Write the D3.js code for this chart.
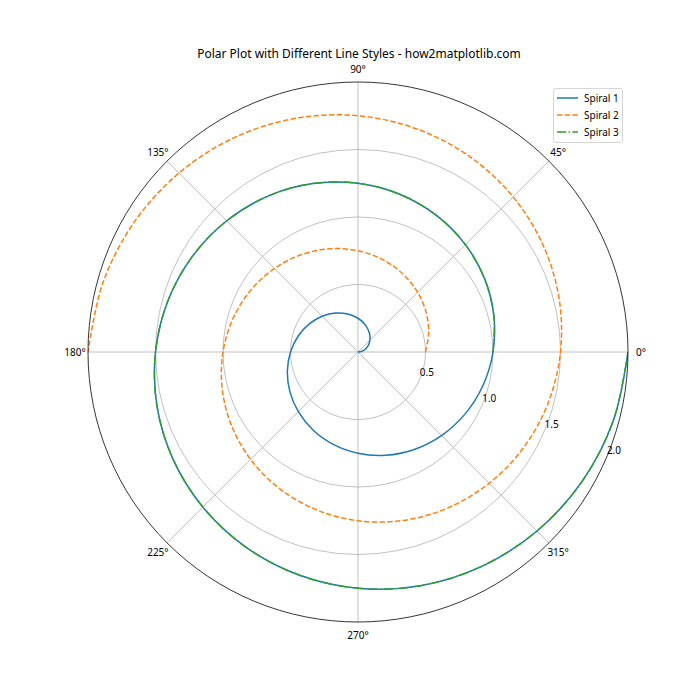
<!DOCTYPE html>
<html><head><meta charset="utf-8">
<script src="https://cdn.jsdelivr.net/npm/d3@7/dist/d3.min.js"></script>
<style>body{margin:0;background:#fff} text{font-family:"Noto Sans",sans-serif;fill:#000}</style>
</head><body>
<svg id="c" width="700" height="700"></svg>
<script>
// ---- data ----
const title = "Polar Plot with Different Line Styles - how2matplotlib.com";
const angleDeg = [0,15,30,45,60,75,90,105,120,135,150,165,180,195,210,225,240,255,270,285,300,315,330,345,360,
  375,390,405,420,435,450,465,480,495,510,525,540,555,570,585,600,615,630,645,660,675,690,705,720];
const spiral1 = [0,0.0417,0.0833,0.125,0.1667,0.2083,0.25,0.2917,0.3333,0.375,0.4167,0.4583,0.5,
  0.5417,0.5833,0.625,0.6667,0.7083,0.75,0.7917,0.8333,0.875,0.9167,0.9583,1.0,
  1.0417,1.0833,1.125,1.1667,1.2083,1.25,1.2917,1.3333,1.375,1.4167,1.4583,1.5,
  1.5417,1.5833,1.625,1.6667,1.7083,1.75,1.7917,1.8333,1.875,1.9167,1.9583,2.0];
const spiral2 = [0.5,0.5417,0.5833,0.625,0.6667,0.7083,0.75,0.7917,0.8333,0.875,0.9167,0.9583,1.0,
  1.0417,1.0833,1.125,1.1667,1.2083,1.25,1.2917,1.3333,1.375,1.4167,1.4583,1.5,
  1.5417,1.5833,1.625,1.6667,1.7083,1.75,1.7917,1.8333,1.875,1.9167,1.9583,2.0];
const spiral3 = [1.0,1.0417,1.0833,1.125,1.1667,1.2083,1.25,1.2917,1.3333,1.375,1.4167,1.4583,1.5,
  1.5417,1.5833,1.625,1.6667,1.7083,1.75,1.7917,1.8333,1.875,1.9167,1.9583,2.0];
const seriesNames = ["Spiral 1","Spiral 2","Spiral 3"];
const thetaTicks = [0,45,90,135,180,225,270,315];
const rTicks = [0.5,1.0,1.5,2.0];
const rTickLabels = ["0.5","1.0","1.5","2.0"];

// ---- layout ----
const cx = 358, cy = 352, R = 270, rMax = 2.0, rLabelAngle = -22.5;
const svg = d3.select("#c");
const r = d3.scaleLinear().domain([0, rMax]).range([0, R]);
const toRad = d => (90 - d) * Math.PI / 180; // d3 radial angle (clockwise from 12 o'clock)
const styles = [
  {color:"#1f77b4", dash:null},
  {color:"#ff7f0e", dash:"5.4,2.33"},
  {color:"#2ca02c", dash:"9.3,2.3,1.46,2.3"}
];

svg.append("text").attr("x", 359).attr("y", 58).attr("text-anchor","middle")
  .attr("font-size", 12).text(title);

const g = svg.append("g").attr("transform", `translate(${cx},${cy})`);
svg.append("defs").append("clipPath").attr("id","clip").append("circle").attr("r", R);

// grid
g.selectAll("circle.grid").data(rTicks.filter(t => t < rMax)).join("circle")
  .attr("r", d => r(d)).attr("fill","none").attr("stroke","#b0b0b0").attr("stroke-width",0.8);
g.selectAll("line.spoke").data(thetaTicks).join("line")
  .attr("x1",0).attr("y1",0)
  .attr("x2", d => r(rMax)*Math.cos(d*Math.PI/180))
  .attr("y2", d => -r(rMax)*Math.sin(d*Math.PI/180))
  .attr("stroke","#b0b0b0").attr("stroke-width",0.8);

// series
const line = d3.lineRadial().angle(d => toRad(d[0])).radius(d => r(d[1])).curve(d3.curveCatmullRom);
const all = [spiral1, spiral2, spiral3];
const pg = g.append("g").attr("clip-path","url(#clip)");
all.forEach((vals, i) => {
  const pts = vals.map((v, j) => [angleDeg[j], v]);
  pg.append("path").attr("d", line(pts)).attr("fill","none")
    .attr("stroke", styles[i].color).attr("stroke-width",1.5)
    .attr("stroke-dasharray", styles[i].dash);
});

// outer spine
g.append("circle").attr("r", R).attr("fill","none").attr("stroke","#000").attr("stroke-width",0.8);

// theta labels
g.selectAll("text.th").data(thetaTicks).join("text")
  .attr("x", d => 283*Math.cos(d*Math.PI/180))
  .attr("y", d => -283*Math.sin(d*Math.PI/180))
  .attr("text-anchor","middle").attr("dominant-baseline","central")
  .attr("font-size",10).text(d => d + "°");

// r labels
g.selectAll("text.rl").data(rTicks).join("text")
  .attr("x", d => r(d)*Math.cos(rLabelAngle*Math.PI/180) + 6.5)
  .attr("y", d => -r(d)*Math.sin(rLabelAngle*Math.PI/180) - 5.5)
  .attr("text-anchor","middle").attr("dominant-baseline","central")
  .attr("font-size",10).text((d,i) => rTickLabels[i]);

// legend
const lg = svg.append("g");
lg.append("rect").attr("x",553.5).attr("y",88.5).attr("width",69).attr("height",54).attr("rx",2.5)
  .attr("fill","#fff").attr("fill-opacity",0.8).attr("stroke","#cccccc").attr("stroke-width",0.8);
seriesNames.forEach((n, i) => {
  const y = 98 + i*17;
  lg.append("line").attr("x1",557).attr("x2",578).attr("y1",y).attr("y2",y)
    .attr("stroke", styles[i].color).attr("stroke-width",1.5).attr("stroke-dasharray", styles[i].dash);
  lg.append("text").attr("x",584).attr("y",y).attr("dominant-baseline","central")
    .attr("font-size",10).text(n);
});
</script>
</body></html>
